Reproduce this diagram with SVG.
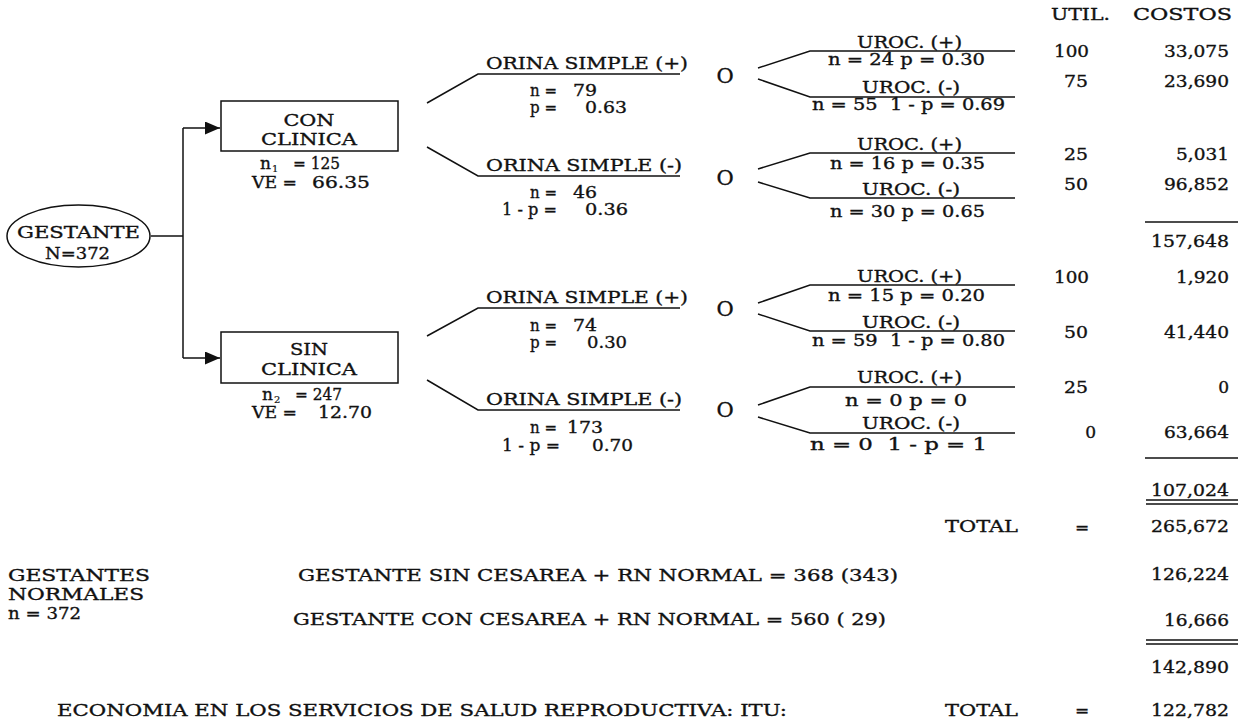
<svg xmlns="http://www.w3.org/2000/svg" width="1239" height="722" viewBox="0 0 1239 722">
<defs>
<style>
text{font-family:"DejaVu Serif","Liberation Serif",serif;font-size:17px;fill:#111;stroke:#111;stroke-width:0.35px;}
.o{font-size:21px}
.s{font-size:16px}
.sub{font-size:10px;stroke-width:0.2px}
.ln{fill:none;stroke:#111;stroke-width:1.5}
.m{text-anchor:middle}
.e{text-anchor:end}
</style>
<marker id="ah" markerUnits="userSpaceOnUse" markerWidth="16" markerHeight="14" refX="15" refY="6.5" orient="auto"><path d="M0,0 L15,6.5 L0,13 z" fill="#111"/></marker>
</defs>
<rect width="1239" height="722" fill="#fff"/>

<g id="connectors" class="ln">
<path d="M151 236 H183"/>
<path d="M183 128 V358"/>
<path d="M183 128 H220" marker-end="url(#ah)"/>
<path d="M183 358 H220" marker-end="url(#ah)"/>
<path d="M427 103 L478 74 H680"/>
<path d="M427 147 L478 176 H680"/>
<path d="M427 336 L478 308 H680"/>
<path d="M427 380 L478 410 H680"/>
<path d="M758 68 L810 51 H1015"/>
<path d="M758 79 L810 97 H1015"/>
<path d="M758 169 L810 153 H1015"/>
<path d="M758 182 L810 198 H1015"/>
<path d="M758 303 L810 285 H1015"/>
<path d="M758 314 L810 331 H1015"/>
<path d="M758 405 L810 387 H1015"/>
<path d="M758 417 L810 433 H1015"/>
</g>

<g id="gestante">
<ellipse cx="78.5" cy="236" rx="71.5" ry="31" class="ln"/>
<text x="78.5" y="238" class="m" textLength="123" lengthAdjust="spacingAndGlyphs">GESTANTE</text>
<text x="77.5" y="259" class="m" textLength="65" lengthAdjust="spacingAndGlyphs">N=372</text>
</g>

<g id="con-clinica">
<rect x="221" y="101" width="177" height="50" class="ln"/>
<text x="309" y="126" class="m" textLength="51" lengthAdjust="spacingAndGlyphs">CON</text>
<text x="309" y="145" class="m" textLength="96" lengthAdjust="spacingAndGlyphs">CLINICA</text>
<text x="260" y="169">n</text><text x="272" y="172" class="sub">1</text>
<text x="293" y="169" textLength="47" lengthAdjust="spacingAndGlyphs">= 125</text>
<text x="252" y="188" textLength="45" lengthAdjust="spacingAndGlyphs">VE =</text>
<text x="312" y="188" textLength="58" lengthAdjust="spacingAndGlyphs">66.35</text>
</g>

<g id="sin-clinica">
<rect x="221" y="332" width="177" height="51" class="ln"/>
<text x="309" y="355" class="m" textLength="38" lengthAdjust="spacingAndGlyphs">SIN</text>
<text x="309" y="375" class="m" textLength="96" lengthAdjust="spacingAndGlyphs">CLINICA</text>
<text x="262" y="400">n</text><text x="274" y="403" class="sub">2</text>
<text x="295" y="400" textLength="47" lengthAdjust="spacingAndGlyphs">= 247</text>
<text x="252" y="418" textLength="45" lengthAdjust="spacingAndGlyphs">VE =</text>
<text x="318" y="418" textLength="54" lengthAdjust="spacingAndGlyphs">12.70</text>
</g>

<g id="orina-pos-con">
<text x="486" y="69" textLength="202" lengthAdjust="spacingAndGlyphs">ORINA SIMPLE (+)</text>
<text x="530" y="96" textLength="27" lengthAdjust="spacingAndGlyphs">n =</text>
<text x="573" y="96" textLength="24" lengthAdjust="spacingAndGlyphs">79</text>
<text x="530" y="113" textLength="27" lengthAdjust="spacingAndGlyphs">p =</text>
<text x="585" y="113" textLength="42" lengthAdjust="spacingAndGlyphs">0.63</text>
</g>
<g id="orina-neg-con">
<text x="486" y="171" textLength="196" lengthAdjust="spacingAndGlyphs">ORINA SIMPLE (-)</text>
<text x="530" y="198" textLength="27" lengthAdjust="spacingAndGlyphs">n =</text>
<text x="573" y="198" textLength="24" lengthAdjust="spacingAndGlyphs">46</text>
<text x="502" y="215" textLength="55" lengthAdjust="spacingAndGlyphs">1 - p =</text>
<text x="585" y="215" textLength="43" lengthAdjust="spacingAndGlyphs">0.36</text>
</g>
<g id="orina-pos-sin">
<text x="486" y="303" textLength="202" lengthAdjust="spacingAndGlyphs">ORINA SIMPLE (+)</text>
<text x="530" y="331" textLength="27" lengthAdjust="spacingAndGlyphs">n =</text>
<text x="573" y="331" textLength="24" lengthAdjust="spacingAndGlyphs">74</text>
<text x="530" y="348" textLength="27" lengthAdjust="spacingAndGlyphs">p =</text>
<text x="587" y="348" textLength="40" lengthAdjust="spacingAndGlyphs">0.30</text>
</g>
<g id="orina-neg-sin">
<text x="486" y="405" textLength="196" lengthAdjust="spacingAndGlyphs">ORINA SIMPLE (-)</text>
<text x="530" y="433" textLength="27" lengthAdjust="spacingAndGlyphs">n =</text>
<text x="567" y="433" textLength="36" lengthAdjust="spacingAndGlyphs">173</text>
<text x="502" y="451" textLength="58" lengthAdjust="spacingAndGlyphs">1 - p =</text>
<text x="592" y="451" textLength="41" lengthAdjust="spacingAndGlyphs">0.70</text>
</g>

<g id="chance-nodes">
<text x="725" y="83" class="o m">O</text>
<text x="725" y="185" class="o m">O</text>
<text x="725" y="316" class="o m">O</text>
<text x="725" y="417" class="o m">O</text>
</g>

<g id="uroc-1">
<text x="857" y="48" class="s" textLength="105" lengthAdjust="spacingAndGlyphs">UROC. (+)</text>
<text x="828" y="65" class="s" textLength="157" lengthAdjust="spacingAndGlyphs">n = 24 p = 0.30</text>
</g>
<g id="uroc-2">
<text x="862" y="93" class="s" textLength="98" lengthAdjust="spacingAndGlyphs">UROC. (-)</text>
<text x="812" y="110" class="s" textLength="193" lengthAdjust="spacingAndGlyphs" xml:space="preserve">n = 55  1 - p = 0.69</text>
</g>
<g id="uroc-3">
<text x="857" y="150" class="s" textLength="105" lengthAdjust="spacingAndGlyphs">UROC. (+)</text>
<text x="830" y="169" class="s" textLength="155" lengthAdjust="spacingAndGlyphs">n = 16 p = 0.35</text>
</g>
<g id="uroc-4">
<text x="862" y="195" class="s" textLength="98" lengthAdjust="spacingAndGlyphs">UROC. (-)</text>
<text x="830" y="217" class="s" textLength="155" lengthAdjust="spacingAndGlyphs">n = 30 p = 0.65</text>
</g>
<g id="uroc-5">
<text x="857" y="282" class="s" textLength="105" lengthAdjust="spacingAndGlyphs">UROC. (+)</text>
<text x="828" y="301" class="s" textLength="157" lengthAdjust="spacingAndGlyphs">n = 15 p = 0.20</text>
</g>
<g id="uroc-6">
<text x="862" y="328" class="s" textLength="98" lengthAdjust="spacingAndGlyphs">UROC. (-)</text>
<text x="812" y="346" class="s" textLength="193" lengthAdjust="spacingAndGlyphs" xml:space="preserve">n = 59  1 - p = 0.80</text>
</g>
<g id="uroc-7">
<text x="857" y="383" class="s" textLength="105" lengthAdjust="spacingAndGlyphs">UROC. (+)</text>
<text x="845" y="406" class="s" textLength="122" lengthAdjust="spacingAndGlyphs">n = 0 p = 0</text>
</g>
<g id="uroc-8">
<text x="862" y="429" class="s" textLength="98" lengthAdjust="spacingAndGlyphs">UROC. (-)</text>
<text x="810" y="450" class="s" textLength="177" lengthAdjust="spacingAndGlyphs" xml:space="preserve">n = 0  1 - p = 1</text>
</g>

<g id="cost-table">
<text x="1051" y="20" class="s" textLength="59" lengthAdjust="spacingAndGlyphs">UTIL.</text>
<text x="1133" y="20" class="s" textLength="99" lengthAdjust="spacingAndGlyphs">COSTOS</text>
<text x="1089" y="57" class="e" textLength="35" lengthAdjust="spacingAndGlyphs">100</text>
<text x="1088" y="87" class="e" textLength="24" lengthAdjust="spacingAndGlyphs">75</text>
<text x="1088" y="160" class="e" textLength="24" lengthAdjust="spacingAndGlyphs">25</text>
<text x="1088" y="190" class="e" textLength="24" lengthAdjust="spacingAndGlyphs">50</text>
<text x="1089" y="283" class="e" textLength="35" lengthAdjust="spacingAndGlyphs">100</text>
<text x="1088" y="338" class="e" textLength="24" lengthAdjust="spacingAndGlyphs">50</text>
<text x="1088" y="393" class="e" textLength="24" lengthAdjust="spacingAndGlyphs">25</text>
<text x="1096" y="438" class="e">0</text>
<text x="1229" y="57" class="e" textLength="65" lengthAdjust="spacingAndGlyphs">33,075</text>
<text x="1229" y="87" class="e" textLength="65" lengthAdjust="spacingAndGlyphs">23,690</text>
<text x="1229" y="160" class="e" textLength="53" lengthAdjust="spacingAndGlyphs">5,031</text>
<text x="1229" y="190" class="e" textLength="65" lengthAdjust="spacingAndGlyphs">96,852</text>
<path d="M1145 222 H1238" class="ln"/>
<text x="1229" y="247" class="e" textLength="78" lengthAdjust="spacingAndGlyphs">157,648</text>
<text x="1229" y="283" class="e" textLength="53" lengthAdjust="spacingAndGlyphs">1,920</text>
<text x="1229" y="338" class="e" textLength="65" lengthAdjust="spacingAndGlyphs">41,440</text>
<text x="1229" y="393" class="e">0</text>
<text x="1229" y="438" class="e" textLength="65" lengthAdjust="spacingAndGlyphs">63,664</text>
<path d="M1145 458 H1238" class="ln"/>
<text x="1229" y="496" class="e" textLength="78" lengthAdjust="spacingAndGlyphs">107,024</text>
<path d="M1146 500 H1238 M1146 504 H1238" class="ln"/>
<text x="945" y="532" textLength="73" lengthAdjust="spacingAndGlyphs">TOTAL</text>
<text x="1082" y="533" class="m">=</text>
<text x="1229" y="532" class="e" textLength="78" lengthAdjust="spacingAndGlyphs">265,672</text>
</g>

<g id="gestantes-normales">
<text x="8" y="581" textLength="142" lengthAdjust="spacingAndGlyphs">GESTANTES</text>
<text x="8" y="600" textLength="136" lengthAdjust="spacingAndGlyphs">NORMALES</text>
<text x="8" y="619" textLength="73" lengthAdjust="spacingAndGlyphs">n = 372</text>
<text x="298" y="581" textLength="600" lengthAdjust="spacingAndGlyphs">GESTANTE SIN CESAREA + RN NORMAL = 368 (343)</text>
<text x="293" y="625" textLength="593" lengthAdjust="spacingAndGlyphs">GESTANTE CON CESAREA + RN NORMAL = 560 ( 29)</text>
<text x="1229" y="580" class="e" textLength="78" lengthAdjust="spacingAndGlyphs">126,224</text>
<text x="1229" y="626" class="e" textLength="65" lengthAdjust="spacingAndGlyphs">16,666</text>
<path d="M1146 640 H1238 M1146 644 H1238" class="ln"/>
<text x="1229" y="673" class="e" textLength="78" lengthAdjust="spacingAndGlyphs">142,890</text>
</g>

<g id="economia">
<text x="57" y="716" textLength="730" lengthAdjust="spacingAndGlyphs">ECONOMIA EN LOS SERVICIOS DE SALUD REPRODUCTIVA: ITU:</text>
<text x="945" y="716" textLength="73" lengthAdjust="spacingAndGlyphs">TOTAL</text>
<text x="1082" y="716" class="m">=</text>
<text x="1229" y="716" class="e" textLength="78" lengthAdjust="spacingAndGlyphs">122,782</text>
</g>
</svg>
